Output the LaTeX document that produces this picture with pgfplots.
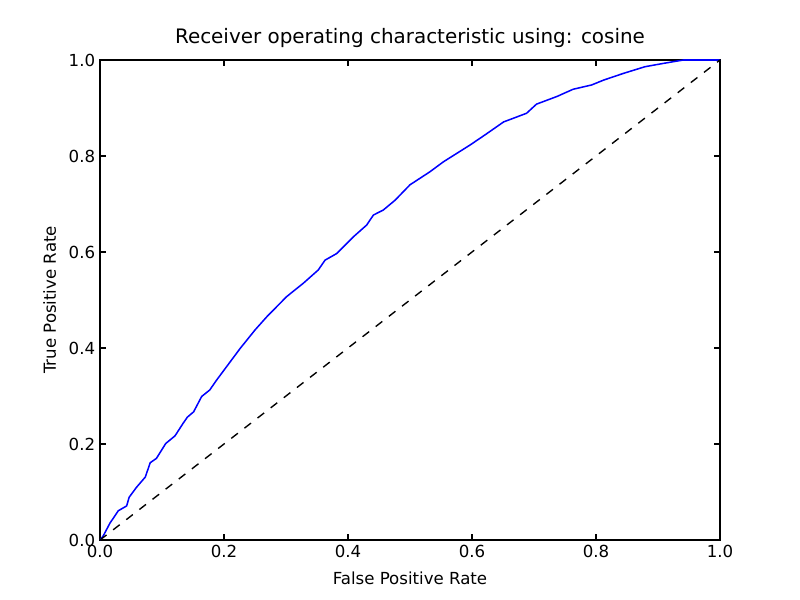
\documentclass[border=0pt]{standalone}
\usepackage{fontspec}
\setmainfont{DejaVu Sans}
\usepackage{pgfplots}
\pgfplotsset{compat=1.18}
\begin{document}
\begin{tikzpicture}[x=1in,y=1in]
\path[use as bounding box] (-1,-0.6) rectangle (7,5.4);
\begin{axis}[
  at={(0,0)}, anchor=south west,
  scale only axis, width=6.2in, height=4.8in,
  xmin=0, xmax=1, ymin=0, ymax=1,
  xtick={0,0.2,0.4,0.6,0.8,1.0}, ytick={0,0.2,0.4,0.6,0.8,1.0},
  xticklabel style={/pgf/number format/.cd, fixed, fixed zerofill, precision=1},
  yticklabel style={/pgf/number format/.cd, fixed, fixed zerofill, precision=1},
  /pgf/number format/assume math mode=true,
  tick align=inside, major tick length=4pt,
  tick style={black, line width=0.8pt},
  axis line style={line width=0.8pt},
  ticklabel style={font=\fontsize{12}{14}\selectfont},
  label style={font=\fontsize{12}{14}\selectfont},
  title style={font=\fontsize{14.4}{17}\selectfont, at={(axis description cs:0.5,1.029)}, anchor=center},
  xlabel style={at={(axis description cs:0.5,-0.079)}, anchor=center},
  ylabel style={at={(axis description cs:-0.081,0.5)}, anchor=center, rotate=0},
  title={Receiver operating characteristic using: cosine},
  xlabel={False Positive Rate}, ylabel={True Positive Rate},
  clip=true,
]
\addplot[blue, line width=1.1pt] coordinates {
(0,0) (0.005,0.008) (0.016,0.035) (0.0296,0.061) (0.043,0.071) (0.047,0.089)
(0.059,0.11) (0.073,0.131) (0.081,0.161) (0.091,0.170) (0.106,0.201)
(0.121,0.217) (0.134,0.243) (0.141,0.256) (0.151,0.267) (0.164,0.299)
(0.177,0.3125) (0.188,0.333) (0.226,0.399) (0.25,0.4375) (0.269,0.465)
(0.301,0.507) (0.328,0.535) (0.352,0.5625) (0.363,0.583) (0.382,0.597)
(0.409,0.632) (0.430,0.656) (0.441,0.677) (0.457,0.6875) (0.476,0.708)
(0.5,0.74) (0.532,0.767) (0.554,0.788) (0.597,0.823) (0.621,0.844)
(0.651,0.871) (0.688,0.889) (0.704,0.908) (0.737,0.924) (0.763,0.939)
(0.793,0.948) (0.812,0.958) (0.844,0.972) (0.879,0.986) (0.909,0.993)
(0.941,1.0) (1,1)
};
\addplot[black, line width=1pt, dash pattern=on 6pt off 6pt] coordinates {(0,0) (1,1)};
\end{axis}
\end{tikzpicture}
\end{document}
